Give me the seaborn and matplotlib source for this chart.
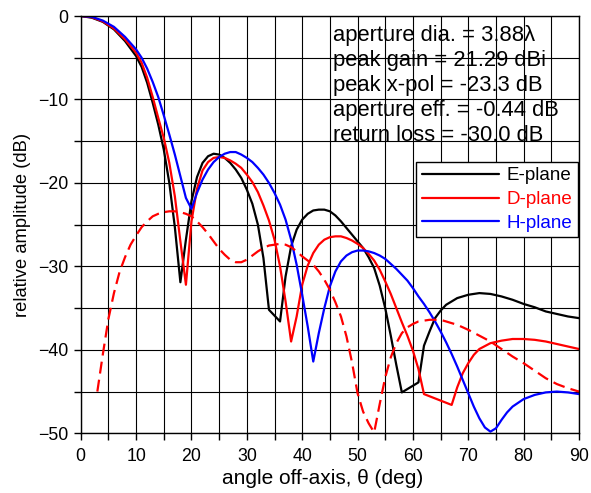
import matplotlib
matplotlib.use("Agg")
import matplotlib.pyplot as plt
from matplotlib.ticker import MultipleLocator
import seaborn as sns
import pandas as pd

# ---------------- data ----------------
e_theta = [0, 2, 4, 6, 8, 10, 11, 12, 13, 14, 15, 16, 17, 18, 19, 20, 21, 22, 23, 24, 25, 26, 27, 28, 29,
           30, 31, 32, 33, 34, 36, 37, 38, 39, 40, 41, 42, 43, 44, 45, 46, 47, 48, 49, 50, 51, 52, 53, 54,
           55, 56, 57, 58, 61, 62, 63, 64, 65, 66, 68, 70, 72, 74, 76, 78, 80, 82, 84, 86, 88, 90]
e_db = [0, -0.2, -0.7, -1.6, -3.0, -4.8, -6.1, -8.0, -10.4, -13.0, -16.0, -20.0, -25.3, -31.9, -26.8,
        -22.2, -19.3, -17.6, -16.8, -16.5, -16.6, -17.0, -17.6, -18.4, -19.4, -20.8, -22.5, -25.0, -29.0,
        -35.2, -36.6, -31.2, -27.6, -25.6, -24.4, -23.7, -23.3, -23.2, -23.2, -23.4, -23.9, -24.6, -25.4,
        -26.2, -27.0, -27.8, -28.9, -30.2, -32.3, -35.0, -38.3, -41.8, -45.1, -43.9, -39.5, -37.8, -36.2,
        -35.3, -34.6, -33.8, -33.4, -33.2, -33.3, -33.6, -34.0, -34.5, -34.9, -35.4, -35.7, -36.0, -36.2]

d_theta = [0, 2, 4, 6, 8, 10, 11, 12, 13, 14, 15, 16, 17, 18, 19, 20, 21, 22, 23, 24, 25, 26, 27, 28, 29,
           30, 31, 32, 33, 34, 35, 36, 37, 38, 39, 40, 41, 42, 43, 44, 45, 46, 47, 48, 49, 50, 51, 52, 53,
           54, 55, 56, 57, 58, 59, 60, 61, 62, 67, 68, 69, 70, 71, 72, 74, 76, 78, 80, 82, 84, 86, 88, 90]
d_db = [0, -0.15, -0.65, -1.5, -2.8, -4.4, -5.6, -7.4, -9.7, -12.2, -14.6, -17.6, -21.6, -27.0, -32.2,
        -24.6, -20.7, -18.5, -17.5, -17.0, -16.9, -17.0, -17.3, -17.7, -18.2, -19.0, -19.9, -21.1, -22.7,
        -24.5, -26.8, -30.0, -34.2, -39.0, -36.0, -32.2, -29.9, -28.4, -27.4, -26.8, -26.5, -26.4, -26.4,
        -26.6, -26.9, -27.3, -27.8, -28.5, -29.3, -30.4, -31.8, -33.3, -35.0, -36.7, -38.3, -40.1, -42.3,
        -45.3, -46.6, -44.5, -42.8, -41.6, -40.6, -39.9, -39.2, -38.9, -38.7, -38.7, -38.8, -39.0, -39.3,
        -39.6, -39.9]

h_theta = [0, 2, 4, 6, 8, 10, 11, 12, 13, 14, 15, 16, 17, 18, 19, 20, 21, 22, 23, 24, 25, 26, 27, 28, 29,
           30, 31, 32, 33, 34, 35, 36, 37, 38, 39, 40, 41, 42, 43, 44, 45, 46, 47, 48, 49, 50, 51, 52, 53,
           54, 55, 56, 57, 58, 59, 60, 61, 62, 63, 64, 65, 66, 67, 68, 69, 70, 71, 72, 73, 74, 75, 76, 77,
           78, 80, 82, 84, 86, 88, 90]
h_db = [0, -0.1, -0.55, -1.3, -2.5, -4.0, -5.0, -6.3, -7.9, -9.7, -11.9, -14.2, -16.6, -19.2, -21.8,
        -23.1, -21.2, -19.6, -18.4, -17.5, -16.9, -16.5, -16.3, -16.3, -16.6, -17.0, -17.5, -18.2, -19.0,
        -20.0, -21.2, -22.6, -24.4, -26.8, -29.8, -33.4, -37.2, -41.4, -38.0, -35.0, -32.4, -30.6, -29.4,
        -28.7, -28.3, -28.1, -28.1, -28.2, -28.4, -28.7, -29.1, -29.7, -30.3, -31.0, -31.7, -32.6, -33.6,
        -34.5, -35.5, -36.6, -37.8, -39.1, -40.5, -42.0, -43.6, -45.2, -46.8, -48.2, -49.3, -49.8, -49.4,
        -48.4, -47.5, -46.8, -45.9, -45.4, -45.1, -45.0, -45.1, -45.3]

x_theta = [3, 4, 5, 6, 7, 8, 9, 10, 11, 12, 13, 14, 15, 16, 17, 18, 19, 20, 21, 22, 23, 24, 25, 26, 27,
           28, 29, 30, 31, 32, 33, 34, 35, 36, 37, 38, 39, 40, 41, 42, 43, 44, 45, 46, 47, 48, 49, 50, 51,
           52, 53, 54, 55, 56, 57, 58, 59, 60, 61, 62, 63, 64, 65, 66, 67, 68, 69, 70, 72, 74, 76, 78, 80,
           82, 84, 86, 88, 90]
x_db = [-45.0, -40.5, -36.3, -33.2, -30.7, -28.9, -27.4, -26.3, -25.3, -24.6, -24.0, -23.7, -23.5, -23.4,
        -23.4, -23.5, -23.7, -24.0, -24.6, -25.3, -26.1, -27.0, -27.9, -28.6, -29.2, -29.5, -29.5, -29.2,
        -28.7, -28.2, -27.8, -27.5, -27.4, -27.3, -27.4, -27.7, -28.2, -28.8, -29.3, -29.8, -30.6, -31.6,
        -32.8, -34.3, -36.0, -38.4, -41.5, -45.2, -47.4, -48.8, -49.9, -46.5, -43.3, -40.9, -39.2, -38.0,
        -37.3, -36.9, -36.6, -36.5, -36.4, -36.4, -36.4, -36.6, -36.8, -37.0, -37.3, -37.6, -38.3, -39.0,
        -39.9, -40.8, -41.6, -42.5, -43.4, -44.1, -44.6, -45.0]

info_lines = ["aperture dia. = 3.88\u03bb", "peak gain = 21.29 dBi", "peak x-pol = -23.3 dB",
              "aperture eff. = -0.44 dB", "return loss = -30.0 dB"]

# ---------------- plot ----------------
sns.set_theme(style="ticks")
plt.rcParams['font.family'] = ['Liberation Sans', 'DejaVu Sans']

fig = plt.figure(figsize=(5.91, 4.93), dpi=100)
ax = fig.add_axes([0.1366, 0.1211, 0.8431, 0.8464])

lw = 1.6
sns.lineplot(x=e_theta, y=e_db, ax=ax, color="black", lw=lw, sort=False, estimator=None, label="E-plane")
sns.lineplot(x=d_theta, y=d_db, ax=ax, color="red", lw=lw, sort=False, estimator=None, label="D-plane")
sns.lineplot(x=h_theta, y=h_db, ax=ax, color="blue", lw=lw, sort=False, estimator=None, label="H-plane")
sns.lineplot(x=x_theta, y=x_db, ax=ax, color="red", lw=lw, sort=False, estimator=None)
ax.lines[-1].set_dashes([5.4, 2.8])

ax.set_xlim(0, 90)
ax.set_ylim(-50, 0)
ax.xaxis.set_major_locator(MultipleLocator(10))
ax.xaxis.set_minor_locator(MultipleLocator(5))
ax.yaxis.set_major_locator(MultipleLocator(10))
ax.yaxis.set_minor_locator(MultipleLocator(5))
ax.grid(True, which="both", color="black", lw=0.8)
ax.set_axisbelow(True)
for s in ax.spines.values():
    s.set_color("black")
    s.set_linewidth(1.0)
    s.set_visible(True)
ax.tick_params(which="both", direction="out", length=4.7, width=1, color="black",
               labelsize=12.8, labelcolor="black")
ax.tick_params(axis="x", which="both", pad=6)
ax.tick_params(axis="y", which="both", pad=4.5)

ax.set_xlabel("angle off-axis, \u03b8 (deg)", fontsize=15, color="black", labelpad=4)
ax.set_ylabel("relative amplitude (dB)", fontsize=13.2, color="black", labelpad=5)
ax.xaxis.set_label_coords(0.485, -0.085)

for i, t in enumerate(info_lines):
    ax.text(45.5, -2.96 - 3.0 * i, t, fontsize=15.8, color="black", ha="left", va="baseline")

leg = ax.legend(loc="upper right", bbox_to_anchor=(0.997, 0.651), fontsize=13.5,
                frameon=True, fancybox=False, edgecolor="black", framealpha=1,
                handlelength=4.1, borderpad=0.3, labelspacing=0.35, handletextpad=0.4,
                borderaxespad=0)
leg.get_frame().set_linewidth(1.0)
for txt, c in zip(leg.get_texts(), ["black", "red", "blue"]):
    txt.set_color(c)

fig.savefig("out.png", dpi=100)
